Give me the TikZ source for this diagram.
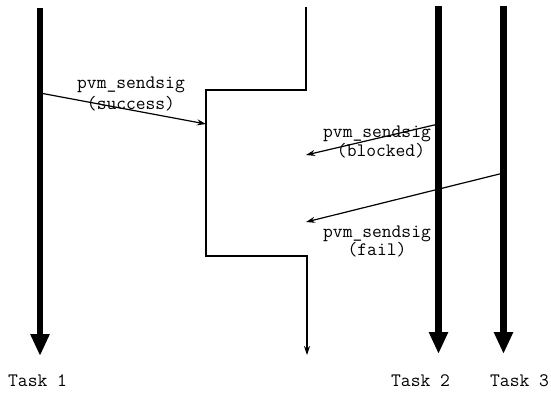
\documentclass[tikz,border=0pt]{standalone}
\usepackage{fontspec}
\usetikzlibrary{arrows.meta}
\begin{document}
\begin{tikzpicture}[x=1pt,y=-1pt,
  lbl/.style={font=\ttfamily\fontsize{19}{21}\selectfont, inner sep=0pt},
  task/.style={line width=6.5pt, -{Triangle[length=22pt,width=18pt]}},
  thin/.style={line width=1.2pt},
  msg/.style={line width=1.2pt, -{Stealth[length=9pt,width=6pt]}}]
\useasboundingbox (0,0) rectangle (551,392);
% task lifelines
\coordinate (t1s) at (40,8);   \coordinate (t1e) at (40,356);
\coordinate (t2s) at (438.5,6); \coordinate (t2e) at (438.5,354);
\coordinate (t3s) at (503.5,6); \coordinate (t3e) at (503.5,354);
% middle line
\coordinate (m0) at (306,7);
\coordinate (m1) at (306,90);
\coordinate (m2) at (206,90);
\coordinate (m3) at (206,256);
\coordinate (m4) at (307,256);
\coordinate (m5) at (307,355);
% message ends
\coordinate (s1) at (40,93);   \coordinate (s2) at (206,124);
\coordinate (b1) at (438.5,124); \coordinate (b2) at (306,155);
\coordinate (f1) at (503.5,173); \coordinate (f2) at (306,222);
% labels (drawn first, lines over them)
\node[lbl] (ls1) at (131,85) {pvm\_sendsig};
\node[lbl] (ls2) at (131,104) {(success)};
\node[lbl, anchor=west] (lb1) at (323,134) {pvm\_sendsig};
\node[lbl] (lb2) at (381,151) {(blocked)};
\node[lbl, anchor=west] (lf1) at (323,234) {pvm\_sendsig};
\node[lbl] (lf2) at (377,250) {(fail)};
\node[lbl, anchor=west] (task1) at (8,381) {Task 1};
\node[lbl, anchor=west] (task2) at (391,381) {Task 2};
\node[lbl, anchor=west] (task3) at (490,381) {Task 3};
% middle thread
\draw[thin, -{Stealth[length=9pt,width=6pt]}] (m0) -- (m1) -- (m2) -- (m3) -- (m4) -- (m5);
% messages
\draw[msg] (s1) -- (s2);
\draw[msg] (b1) -- (b2);
\draw[msg] (f1) -- (f2);
% tasks
\draw[task] (t1s) -- (t1e);
\draw[task] (t2s) -- (t2e);
\draw[task] (t3s) -- (t3e);
\end{tikzpicture}
\end{document}
